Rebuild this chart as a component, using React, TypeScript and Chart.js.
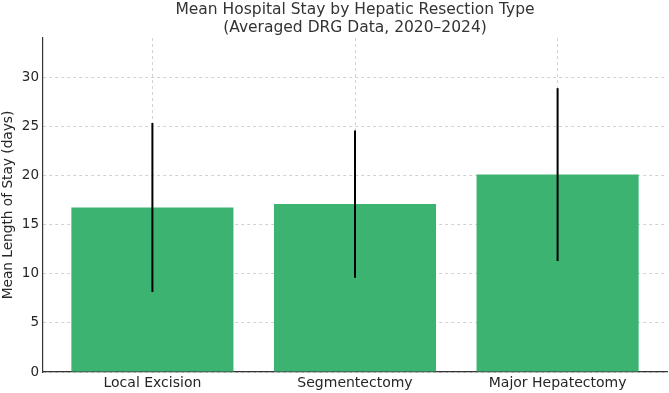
import React, { useEffect, useRef } from "react";
import { Chart, registerables } from "chart.js";

Chart.register(...registerables);

const categories = ["Local Excision", "Segmentectomy", "Major Hepatectomy"];
const meanStay = [16.75, 17.1, 20.1];
const stayError = [8.6, 7.5, 8.8];
const yTicks = [0, 5, 10, 15, 20, 25, 30];

const FONT = "'DejaVu Sans', sans-serif";
const TEXT = "#262626";
const GRID = "rgba(0,0,0,0.18)";

// Symmetric error bars drawn on top of each bar through the chart's scales
const errorBarPlugin = {
  id: "errorBars",
  afterDatasetsDraw(chart: any) {
    const { ctx, scales } = chart;
    const xs = scales.x;
    const ys = scales.y;
    ctx.save();
    ctx.strokeStyle = "#000";
    ctx.lineWidth = 2;
    meanStay.forEach((m, i) => {
      const px = xs.getPixelForValue(i);
      ctx.beginPath();
      ctx.moveTo(px, ys.getPixelForValue(m - stayError[i]));
      ctx.lineTo(px, ys.getPixelForValue(m + stayError[i]));
      ctx.stroke();
    });
    ctx.restore();
  },
};

export default function App() {
  const ref = useRef<HTMLCanvasElement>(null);

  useEffect(() => {
    if (!ref.current) return;
    const chart = new Chart(ref.current, {
      type: "bar",
      data: {
        datasets: [
          {
            data: meanStay.map((v, i) => ({ x: i, y: v })),
            backgroundColor: "#3cb371",
            borderWidth: 0,
            barPercentage: 0.8,
            categoryPercentage: 1,
          },
        ],
      },
      options: {
        animation: false,
        responsive: false,
        layout: { padding: { left: 0, right: 2, top: 0, bottom: 0 } },
        plugins: {
          legend: { display: false },
          tooltip: { enabled: false },
          title: {
            display: true,
            fullSize: false,
            text: [
              "Mean Hospital Stay by Hepatic Resection Type",
              "(Averaged DRG Data, 2020–2024)",
            ],
            color: "#333",
            font: { family: FONT, size: 15.5, weight: "normal", lineHeight: 1.15 },
            padding: { top: 1.2, bottom: 1.2 },
          },
        },
        scales: {
          x: {
            type: "linear",
            min: -0.54,
            max: 2.54,
            offset: false,
            afterBuildTicks(scale: any) {
              scale.ticks = categories.map((_, i) => ({ value: i }));
            },
            afterFit(scale: any) {
              scale.height = 21;
            },
            ticks: {
              color: TEXT,
              font: { family: FONT, size: 14 },
              padding: 3,
              maxRotation: 0,
              autoSkip: false,
              callback: (v: any) => categories[v] ?? "",
            },
            grid: {
              offset: false,
              color: GRID,
              drawTicks: false,
            } as any,
            // dash applies to the grid lines; the axis line stays solid
            border: { display: true, color: "#333", width: 1.2, dash: [3, 3] } as any,
          },
          y: {
            min: 0,
            max: 34,
            afterBuildTicks(scale: any) {
              scale.ticks = yTicks.map((v) => ({ value: v }));
            },
            afterFit(scale: any) {
              scale.width = 43;
            },
            title: {
              display: true,
              text: "Mean Length of Stay (days)",
              color: TEXT,
              font: { family: FONT, size: 13.7 },
              padding: { top: 0, bottom: 0 },
            },
            ticks: {
              color: TEXT,
              font: { family: FONT, size: 13.5 },
              padding: 4,
            },
            grid: {
              color: GRID,
              drawTicks: false,
            } as any,
            border: { display: true, color: "#333", width: 1.2, dash: [3, 3] } as any,
          },
        },
      } as any,
      plugins: [errorBarPlugin],
    });
    return () => chart.destroy();
  }, []);

  return (
    <div style={{ position: "fixed", left: 0, top: 0, width: 669, height: 393, background: "#fff" }}>
      <canvas ref={ref} width={669} height={393} style={{ width: 669, height: 393 }} />
    </div>
  );
}
